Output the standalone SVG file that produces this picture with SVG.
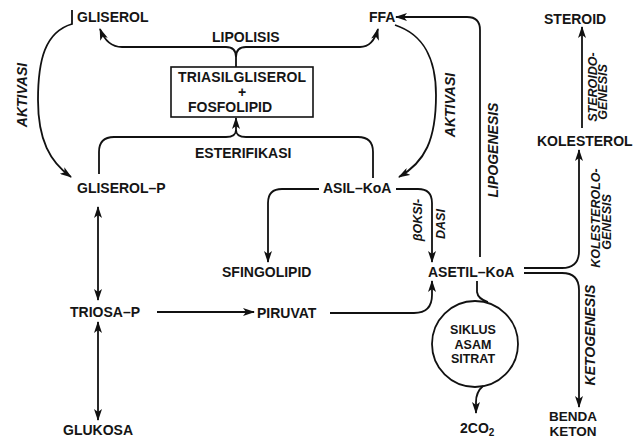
<svg xmlns="http://www.w3.org/2000/svg" width="640" height="438" viewBox="0 0 640 438">
<defs>
<marker id="ah" markerUnits="userSpaceOnUse" markerWidth="12" markerHeight="8" refX="11" refY="4" orient="auto-start-reverse">
<path d="M0,0 L12,4 L0,8 L3,4 z" fill="#111"/>
</marker>
<style>
.t{font-family:"Liberation Sans",Arial,sans-serif;font-weight:bold;font-size:14px;fill:#151515}
.m{text-anchor:middle}
.i{font-family:"Liberation Sans",Arial,sans-serif;font-weight:bold;font-style:italic;font-size:14px;fill:#151515;text-anchor:middle}
.s{font-size:12.5px}
.b{font-size:12.5px}
.k{font-size:13.5px}
.c{fill:none;stroke:#111;stroke-width:1.8}
.a{marker-end:url(#ah)}
.d{marker-start:url(#ah);marker-end:url(#ah)}
</style>
</defs>
<rect width="640" height="438" fill="#fff"/>

<g id="connectors">
<path class="c a" d="M72,10 L72,24 C45,32 38,60 38,100 C38,140 50,162 71,177"/>
<path class="c a" d="M236,67 V57 Q236,47 226,47 H122 Q107,47 100,29"/>
<path class="c a" d="M236,57 Q236,47 246,47 H360 Q373,47 378,29"/>
<path class="c" d="M99,174 V152 Q99,137 114,137 H226 Q236,137 236,130"/>
<path class="c" d="M373,178 V152 Q373,137 358,137 H246 Q236,137 236,130"/>
<path class="c a" d="M236,132 V118"/>
<path class="c a" d="M395,25 C425,35 436,60 436,95 C436,140 425,162 399,177"/>
<path class="c a" d="M480,257 V30 Q480,17 467,17 H396"/>
<path class="c a" d="M319,189 H282 Q268,189 268,203 V262"/>
<path class="c a" d="M396,189 H418 Q432,189 432,203 V262"/>
<path class="c a" d="M330,313 H414 Q432,313 432,295 V281"/>
<path class="c a" d="M157,312 H254"/>
<path class="c d" d="M98,207 V300"/>
<path class="c d" d="M98,322 V420"/>
<path class="c a" d="M524,268 H562 Q579,268 579,251 V150"/>
<path class="c a" d="M524,273 H562 Q579,273 579,290 V407"/>
<path class="c a" d="M582,128 V27"/>
<path class="c" d="M477,281 V292 Q478,299 488,302"/>
<path class="c a" d="M483,386 Q476,392 476,402 V413"/>
</g>

<g id="gliserol"><text class="t" x="77" y="22">GLISEROL</text></g>
<g id="ffa"><text class="t" x="369" y="22">FFA</text></g>
<g id="steroid"><text class="t" x="544" y="24">STEROID</text></g>
<g id="triasilgliserol">
<rect x="171" y="67" width="142" height="50" fill="none" stroke="#111" stroke-width="1.6"/>
<text class="t m" x="242" y="82" font-size="13" textLength="128">TRIASILGLISEROL</text>
<text class="t m" x="242" y="97" font-size="11">+</text>
<text class="t m" x="230" y="112" font-size="13.5">FOSFOLIPID</text>
</g>
<g id="kolesterol"><text class="t" x="537" y="146">KOLESTEROL</text></g>
<g id="gliserol-p"><text class="t" x="77" y="193">GLISEROL–P</text></g>
<g id="asil-koa"><text class="t" x="323" y="193">ASIL–KoA</text></g>
<g id="sfingolipid"><text class="t" x="222" y="277">SFINGOLIPID</text></g>
<g id="asetil-koa"><text class="t" x="428" y="277">ASETIL–KoA</text></g>
<g id="triosa-p"><text class="t" x="70" y="317">TRIOSA–P</text></g>
<g id="piruvat"><text class="t" x="257" y="318">PIRUVAT</text></g>
<g id="siklus">
<circle cx="475" cy="344" r="43" fill="none" stroke="#111" stroke-width="1.8"/>
<text class="t m b" x="473" y="334">SIKLUS</text>
<text class="t m b" x="473" y="348.5">ASAM</text>
<text class="t m b" x="473" y="363">SITRAT</text>
</g>
<g id="glukosa"><text class="t" x="63" y="435">GLUKOSA</text></g>
<g id="co2"><text class="t" x="460" y="433">2CO<tspan font-size="10" dy="3">2</tspan></text></g>
<g id="benda-keton">
<text class="t m k" x="573" y="421">BENDA</text>
<text class="t m k" x="573" y="436">KETON</text>
</g>

<g id="labels">
<text class="t" x="212" y="42">LIPOLISIS</text>
<text class="t" x="195" y="158">ESTERIFIKASI</text>
<text class="i" transform="translate(27,95) rotate(-90)">AKTIVASI</text>
<text class="i" transform="translate(455,105) rotate(-90)">AKTIVASI</text>
<text class="i" transform="translate(498,150) rotate(-90)">LIPOGENESIS</text>
<text class="i s" transform="translate(597,87) rotate(-90)">STEROIDO-</text>
<text class="i s" transform="translate(607,92) rotate(-90)">GENESIS</text>
<text class="i s" transform="translate(600,218) rotate(-90)">KOLESTEROLO-</text>
<text class="i s" transform="translate(611,222) rotate(-90)">GENESIS</text>
<text class="i" transform="translate(595,335) rotate(-90)">KETOGENESIS</text>
<text class="i s" transform="translate(422,220) rotate(-90)">βOKSI-</text>
<text class="i s" transform="translate(445,224) rotate(-90)">DASI</text>
</g>
</svg>
